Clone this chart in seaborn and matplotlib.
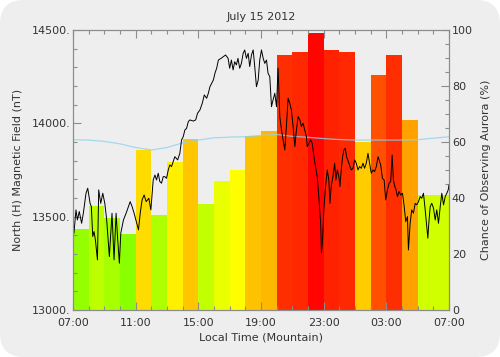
import numpy as np
import pandas as pd
import matplotlib
matplotlib.use("Agg")
import matplotlib.pyplot as plt
import seaborn as sns
from matplotlib.colors import LinearSegmentedColormap
from matplotlib.patches import FancyBboxPatch
from matplotlib.transforms import IdentityTransform
from matplotlib.ticker import FixedLocator, MultipleLocator, FuncFormatter

# Chance of observing aurora (%), one bar per hour starting at these local hours
bar_start = list(range(7, 31))
aurora_pct = [29, 37, 33, 27, 57, 34, 53, 61, 38, 46, 50, 62,
              64, 91, 92, 99, 93, 92, 60, 84, 91, 68, 41, 41]

# Quiet-day baseline of the H component (nT), hourly
baseline_hour = list(range(7, 32))
baseline_nt = [13912, 13910, 13903, 13890, 13870, 13857, 13870, 13895, 13910,
               13922, 13926, 13928, 13935, 13940, 13930, 13925, 13918, 13913,
               13910, 13910, 13910, 13910, 13912, 13920, 13928]

# Measured north (H) magnetic field (nT); hours past midnight July 15
field_hour = [
    7.00, 7.06, 7.19, 7.28, 7.40, 7.55, 7.66, 7.83, 7.94, 8.09, 8.17, 8.26, 8.34,
    8.43, 8.56, 8.64, 8.77, 8.90, 9.03, 9.15, 9.32, 9.49, 9.62, 9.75, 9.84, 9.96,
    10.05, 10.22, 10.39, 10.54, 10.65, 10.77, 10.90, 11.07, 11.18, 11.29, 11.41,
    11.54, 11.67, 11.84, 11.97, 12.12, 12.23, 12.33, 12.44, 12.54, 12.65, 12.76,
    12.86, 12.97, 13.08, 13.18, 13.29, 13.40, 13.50, 13.68, 13.82, 13.93, 14.04,
    14.14, 14.25, 14.36, 14.46, 14.68, 14.83, 14.95, 15.10, 15.25, 15.38, 15.53,
    15.64, 15.74, 15.85, 15.96, 16.06, 16.17, 16.28, 16.45, 16.60, 16.74, 16.90,
    17.00, 17.11, 17.22, 17.32, 17.43, 17.53, 17.64, 17.75, 17.86, 17.96, 18.07,
    18.18, 18.28, 18.39, 18.50, 18.60, 18.71, 18.82, 18.92, 19.03, 19.14, 19.24,
    19.35, 19.45, 19.56, 19.67, 19.77, 19.88, 19.99, 20.09, 20.20, 20.31, 20.41,
    20.52, 20.62, 20.73, 20.84, 20.94, 21.05, 21.16, 21.26, 21.37, 21.48, 21.58,
    21.69, 21.79, 21.90, 21.95, 22.06, 22.16, 22.27, 22.38, 22.48, 22.59, 22.69,
    22.76, 22.80, 22.86, 22.93, 23.01, 23.12, 23.23, 23.33, 23.40, 23.48, 23.59,
    23.70, 23.78, 23.87, 23.97, 24.04, 24.12, 24.21, 24.29, 24.38, 24.46, 24.57,
    24.68, 24.76, 24.87, 24.98, 25.08, 25.19, 25.29, 25.40, 25.51, 25.61, 25.72,
    25.83, 25.93, 26.04, 26.15, 26.25, 26.36, 26.47, 26.57, 26.64, 26.75, 26.86,
    26.96, 27.07, 27.18, 27.28, 27.37, 27.45, 27.54, 27.62, 27.71, 27.81, 27.92,
    28.03, 28.14, 28.24, 28.35, 28.41, 28.52, 28.62, 28.73, 28.84, 28.94, 29.05,
    29.16, 29.26, 29.37, 29.48, 29.58, 29.65, 29.71, 29.80, 29.90, 30.01, 30.12,
    30.22, 30.33, 30.44, 30.54, 30.65, 30.76, 30.86, 30.95, 31.00]
field_nt = [
    13440, 13411, 13536, 13482, 13527, 13464, 13518, 13625, 13652, 13571, 13554, 13393, 13420,
    13375, 13268, 13643, 13571, 13625, 13571, 13482, 13286, 13518, 13268, 13518, 13393, 13250,
    13411, 13482, 13518, 13554, 13580, 13554, 13518, 13464, 13429, 13518, 13589,
    13616, 13580, 13598, 13536, 13696, 13723, 13696, 13732, 13688, 13679, 13714,
    13714, 13705, 13750, 13777, 13768, 13795, 13821, 13804, 13839, 13911, 13929,
    13964, 13973, 14009, 14018, 14012, 14018, 14054, 14071, 14107, 14152, 14134,
    14161, 14196, 14214, 14232, 14268, 14295, 14339, 14348, 14357, 14366, 14348,
    14295, 14339, 14286, 14330, 14313, 14348, 14295, 14321, 14375, 14393, 14348,
    14375, 14304, 14366, 14393, 14304, 14196, 14232, 14339, 14393, 14348, 14321,
    14339, 14268, 14250, 14089, 14125, 14161, 14089, 14296, 14036, 13964, 13911,
    13857, 13982, 14134, 14107, 14071, 13982, 13875, 13964, 14036, 14018, 13982,
    14000, 13964, 13929, 13875, 13893, 13911, 13893, 13821, 13768, 13714, 13607,
    13518, 13482, 13304, 13375, 13536, 13661, 13750, 13696, 13571, 13661, 13714,
    13786, 13696, 13750, 13714, 13661, 13750, 13821, 13857, 13866, 13821, 13795,
    13768, 13750, 13759, 13804, 13786, 13750, 13768, 13759, 13786, 13759, 13786,
    13839, 13786, 13732, 13750, 13741, 13768, 13821, 13795, 13777, 13705, 13696,
    13589, 13643, 13679, 13688, 13830, 13696, 13661, 13643, 13607, 13634, 13616,
    13625, 13554, 13473, 13500, 13321, 13464, 13536, 13518, 13571, 13563, 13580,
    13607, 13598, 13625, 13536, 13446, 13384, 13464, 13554, 13571, 13545, 13482,
    13536, 13464, 13554, 13625, 13563, 13607, 13625, 13643, 13670]

sns.set_style("white")
plt.rcParams['font.family'] = ['DejaVu Sans']
plt.rcParams['font.size'] = 8

text_col = '#333333'
axis_col = '#8c8c8c'

fig = plt.figure(figsize=(5, 3.57), dpi=100)
fig.patch.set_facecolor('white')
fig.add_artist(FancyBboxPatch((0, 0), 500, 357, boxstyle="round,pad=0,rounding_size=24",
                              transform=IdentityTransform(), fc='#eeeeee', ec='none', zorder=-10))

ax = fig.add_axes([0.146, 0.132, 0.752, 0.784])
ax2 = ax.twinx()
ax.patch.set_visible(False)
ax2.patch.set_visible(False)
ax.set_zorder(ax2.get_zorder() + 1)

# green -> yellow -> red by chance of aurora
aurora_cmap = LinearSegmentedColormap.from_list('aurora', ['#00ff00', '#ffff00', '#ff0000'])
bars = pd.DataFrame({'mid': np.array(bar_start) + 0.5, 'pct': aurora_pct})
sns.barplot(data=bars, x='mid', y='pct', hue='pct', palette=aurora_cmap, hue_norm=(0, 100),
            native_scale=True, width=1, dodge=False, legend=False, saturation=1,
            linewidth=0, ax=ax2)

sns.lineplot(x=baseline_hour, y=baseline_nt, color='#8fd3ee', lw=0.9, alpha=0.8, ax=ax)
sns.lineplot(x=field_hour, y=field_nt, color='black', lw=0.7, ax=ax)

ax.set_xlim(7, 31)
ax.set_ylim(13000, 14500)
ax2.set_ylim(0, 100)

ax.xaxis.set_major_locator(FixedLocator(list(range(7, 32, 4))))
ax.xaxis.set_minor_locator(MultipleLocator(1))
ax.xaxis.set_major_formatter(FuncFormatter(lambda v, p: f"{int(round(v)) % 24:02d}:00"))
ax.yaxis.set_major_locator(MultipleLocator(500))
ax.yaxis.set_minor_locator(MultipleLocator(100))
ax.yaxis.set_major_formatter(FuncFormatter(lambda v, p: f"{v:.0f}."))
ax2.yaxis.set_major_locator(MultipleLocator(20))
ax2.yaxis.set_minor_locator(MultipleLocator(5))
ax2.yaxis.set_major_formatter(FuncFormatter(lambda v, p: f"{v:.0f}"))

ax.tick_params(axis='x', which='both', direction='in', top=True, bottom=True,
               colors=axis_col, labelcolor=text_col, labelsize=8, pad=6)
ax.tick_params(axis='y', which='both', direction='in', left=True, right=False,
               colors=axis_col, labelcolor=text_col, labelsize=8, pad=2)
ax2.tick_params(axis='y', which='both', direction='in', right=True, left=False,
                colors=axis_col, labelcolor=text_col, labelsize=8, pad=2)
for a in (ax, ax2):
    a.tick_params(which='major', length=6, width=0.8)
    a.tick_params(which='minor', length=3, width=0.8)
    for s in a.spines.values():
        s.set_color(axis_col)
        s.set_linewidth(0.8)

ax.set_title("July 15 2012", color=text_col, fontsize=8, pad=7)
ax.set_xlabel("Local Time (Mountain)", color=text_col, fontsize=8, labelpad=3)
ax.set_ylabel("North (H) Magnetic Field (nT)", color=text_col, fontsize=8, labelpad=6)
ax2.set_ylabel("Chance of Observing Aurora (%)", color=text_col, fontsize=8, labelpad=6)

fig.savefig("out.png", dpi=100, facecolor='white')
